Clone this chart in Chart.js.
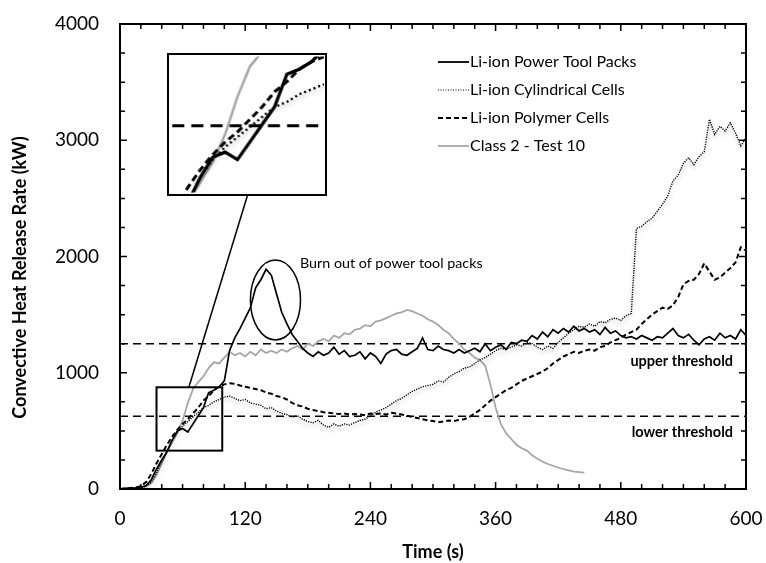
<!DOCTYPE html>
<html>
<head>
<meta charset="utf-8">
<script src="https://cdn.jsdelivr.net/npm/chart.js@4.4.1/dist/chart.umd.min.js"></script>
<style>
  html, body { margin: 0; padding: 0; background: #fff; }
  #wrap { position: relative; width: 766px; height: 563px; }
  #inset { position: absolute; box-sizing: border-box; border: 2px solid #000; background: #fff; }
</style>
</head>
<body>
<div id="wrap">
  <canvas id="hrr-chart"></canvas>
  <div id="inset"><canvas id="inset-chart"></canvas></div>
</div>
<script>
const timeS = [
  0, 5, 10, 15, 20, 25, 30, 35, 40, 45,
  50, 55, 60, 65, 70, 75, 80, 85, 90, 95,
  100, 105, 110, 115, 120, 125, 130, 135, 140, 145,
  150, 155, 160, 165, 170, 175, 180, 185, 190, 195,
  200, 205, 210, 215, 220, 225, 230, 235, 240, 245,
  250, 255, 260, 265, 270, 275, 280, 285, 290, 295,
  300, 305, 310, 315, 320, 325, 330, 335, 340, 345,
  350, 355, 360, 365, 370, 375, 380, 385, 390, 395,
  400, 405, 410, 415, 420, 425, 430, 435, 440, 445,
  450, 455, 460, 465, 470, 475, 480, 485, 490, 495,
  500, 505, 510, 515, 520, 525, 530, 535, 540, 545,
  550, 555, 560, 565, 570, 575, 580, 585, 590, 595,
  600
];

const powerToolPacks = [
  0, 5, 8, 10, 15, 30, 80, 170, 250, 320,
  420, 500, 520, 490, 560, 630, 700, 830, 850, 880,
  930, 1190, 1300, 1380, 1470, 1560, 1730, 1800, 1890, 1840,
  1680, 1520, 1420, 1330, 1270, 1210, 1170, 1140, 1180, 1150,
  1170, 1220, 1160, 1190, 1140, 1150, 1180, 1120, 1170, 1140,
  1080, 1160, 1190, 1200, 1160, 1150, 1180, 1210, 1300, 1200,
  1190, 1230, 1200, 1190, 1170, 1200, 1170, 1190, 1210, 1180,
  1250, 1190, 1220, 1240, 1200, 1260, 1250, 1280, 1270, 1320,
  1290, 1350, 1310, 1370, 1340, 1380, 1350, 1400, 1360, 1380,
  1350, 1370, 1330, 1390, 1340, 1360, 1320, 1300, 1310, 1290,
  1320, 1300, 1280, 1310, 1300, 1340, 1380, 1320, 1300, 1330,
  1280, 1240, 1290, 1310, 1280, 1340, 1300, 1320, 1290, 1370,
  1320
];

const cylindricalCells = [
  0, 3, 5, 8, 12, 25, 60, 140, 230, 320,
  420, 490, 540, 580, 620, 660, 700, 720, 750, 770,
  790, 800, 780, 760, 770, 740, 730, 720, 690, 700,
  670, 650, 640, 620, 630, 600, 580, 570, 590, 550,
  530, 560, 540, 560, 550, 570, 590, 600, 630, 660,
  680, 700, 730, 760, 780, 810, 840, 860, 880, 890,
  900, 930, 920, 960, 990, 1010, 1040, 1050, 1080, 1110,
  1130, 1160, 1190, 1210, 1200, 1220, 1240, 1230, 1260, 1250,
  1220, 1200, 1230, 1210, 1260, 1300, 1340, 1370, 1400, 1390,
  1420, 1400, 1440, 1430, 1460, 1470, 1450, 1490, 1510, 2240,
  2260, 2300, 2330, 2390, 2450, 2520, 2650, 2700, 2800, 2850,
  2790, 2860, 2900, 3180, 3050, 3120, 3080, 3150, 3060, 2950,
  3020
];

const polymerCells = [
  0, 5, 8, 12, 25, 60, 130, 220, 300, 380,
  450, 510, 560, 600, 650, 700, 760, 800, 850, 880,
  900, 910, 905, 890, 880, 870, 860, 850, 830, 820,
  800, 790, 770, 740, 720, 710, 690, 680, 670, 660,
  655, 650, 645, 650, 640, 645, 640, 635, 650, 645,
  650, 640, 655, 650, 640, 630, 620, 610, 600, 590,
  585, 575, 580, 590, 585, 595, 600, 620, 650, 680,
  720, 760, 790, 820, 850, 870, 900, 930, 950, 970,
  990, 1010, 1040, 1080, 1110, 1140, 1160, 1180, 1170, 1190,
  1200, 1190, 1220, 1230, 1260, 1280, 1300, 1330, 1350, 1370,
  1420, 1460, 1500, 1530, 1560, 1550, 1580, 1650, 1760, 1790,
  1800, 1850, 1940, 1870, 1800, 1820, 1860, 1900, 1950, 2080,
  2050
];

// test ends at 445 s
const class2Test10 = [
  0, 3, 5, 8, 12, 20, 50, 120, 220, 320,
  400, 480, 590, 740, 860, 920, 970, 1040, 1090, 1080,
  1130, 1180, 1150, 1170, 1140, 1180, 1150, 1200, 1170, 1190,
  1170, 1200, 1180, 1210, 1230, 1200, 1250, 1230, 1270, 1290,
  1270, 1320, 1300, 1340, 1330, 1370, 1380, 1410, 1400, 1440,
  1450, 1470, 1490, 1510, 1520, 1540, 1530, 1510, 1490, 1460,
  1440, 1410, 1370, 1340, 1290, 1250, 1200, 1170, 1130, 1110,
  1060, 900, 700, 560, 480, 430, 380, 350, 330, 290,
  260, 235, 215, 200, 185, 170, 160, 150, 145, 140
];

const upperThreshold = 1250;
const lowerThreshold = 625;

const xTickLabels = [0, 120, 240, 360, 480, 600];
const yTickLabels = [0, 1000, 2000, 3000, 4000];

const FONT = 'Lato, "Open Sans", sans-serif';
const GREY = '#a6a6a6';

const toPoints = vals => vals.map((v, i) => ({ x: timeS[i], y: v }));
const flat = v => [{ x: 0, y: v }, { x: 600, y: v }];

function makeDatasets(thick) {
  const k = thick ? 1.9 : 1;
  return [
    { label: 'Li-ion Power Tool Packs', data: toPoints(powerToolPacks),
      borderColor: '#000', borderWidth: 1.7 * k, borderDash: [] },
    { label: 'Li-ion Cylindrical Cells', data: toPoints(cylindricalCells),
      borderColor: '#000', borderWidth: thick ? 2.4 : 1.4, borderDash: thick ? [2, 3] : [1.2, 1.2] },
    { label: 'Li-ion Polymer Cells', data: toPoints(polymerCells),
      borderColor: '#000', borderWidth: 2 * (thick ? 1.5 : 1), borderDash: thick ? [7, 4] : [5, 3] },
    { label: 'Class 2 - Test 10', data: toPoints(class2Test10),
      borderColor: GREY, borderWidth: 1.8 * (thick ? 1.4 : 1), borderDash: [] },
    { label: 'upper', data: flat(upperThreshold), borderColor: '#000',
      borderWidth: thick ? 3 : 1.5, borderDash: thick ? [12, 7] : [8, 5], legend: false },
    { label: 'lower', data: flat(lowerThreshold), borderColor: '#000',
      borderWidth: thick ? 3 : 1.5, borderDash: thick ? [12, 7] : [8, 5], legend: false }
  ];
}

// soft grey shadow under the dotted series
const shadow = {
  id: 'shadow',
  beforeDatasetDraw(chart, args) {
    if (args.index !== 1) return;
    const ctx = chart.ctx;
    ctx.save();
    ctx.shadowColor = 'rgba(0,0,0,0.35)';
    ctx.shadowBlur = 4;
    ctx.shadowOffsetY = 3;
  },
  afterDatasetDraw(chart, args) {
    if (args.index === 1) chart.ctx.restore();
  }
};

const decor = {
  id: 'decor',
  afterDatasetsDraw(chart) {
    const { ctx, chartArea: a, scales: { x, y } } = chart;
    const X = v => x.getPixelForValue(v);
    const Y = v => y.getPixelForValue(v);
    ctx.save();
    ctx.strokeStyle = '#000';
    ctx.fillStyle = '#000';

    // inward ticks on all four sides
    ctx.lineWidth = 1.5;
    ctx.beginPath();
    x.ticks.forEach(t => {
      const px = X(t.value), len = t.value % 120 === 0 ? 7 : 5;
      ctx.moveTo(px, a.bottom); ctx.lineTo(px, a.bottom - len);
      ctx.moveTo(px, a.top); ctx.lineTo(px, a.top + len);
    });
    y.ticks.forEach(t => {
      const py = Y(t.value), len = t.value % 1000 === 0 ? 7 : 5;
      ctx.moveTo(a.left, py); ctx.lineTo(a.left + len, py);
      ctx.moveTo(a.right, py); ctx.lineTo(a.right - len, py);
    });
    ctx.stroke();

    ctx.lineWidth = 2;
    ctx.strokeRect(a.left, a.top, a.right - a.left, a.bottom - a.top);

    // zoom box, connector, ellipse
    ctx.lineWidth = 2;
    ctx.strokeRect(X(35), Y(875), X(98) - X(35), Y(330) - Y(875));
    ctx.lineWidth = 1.5;
    ctx.beginPath();
    ctx.moveTo(X(66), Y(875));
    ctx.lineTo(X(122), Y(2520));
    ctx.stroke();
    ctx.beginPath();
    ctx.ellipse(X(149), Y(1626), X(173) - X(149), Y(1282) - Y(1626), 0, 0, Math.PI * 2);
    ctx.stroke();

    // notes
    ctx.textBaseline = 'middle';
    ctx.font = '14.3px ' + FONT;
    ctx.textAlign = 'left';
    ctx.fillText('Burn out of power tool packs', X(172.5), Y(1945));
    ctx.font = 'bold 14.5px ' + FONT;
    ctx.textAlign = 'right';
    ctx.fillText('upper threshold', X(587.5), Y(1100));
    ctx.fillText('lower threshold', X(587.5), Y(490));

    // legend
    ctx.font = '16px ' + FONT;
    ctx.textAlign = 'left';
    chart.data.datasets.filter(d => d.legend !== false).forEach((d, i) => {
      const ly = a.top + 38 + i * 28;
      ctx.save();
      ctx.strokeStyle = d.borderColor;
      ctx.lineWidth = i === 1 ? 1 : 1.8;
      ctx.setLineDash(i === 1 ? [1, 1.5] : d.borderDash);
      ctx.beginPath();
      ctx.moveTo(a.left + 318, ly);
      ctx.lineTo(a.left + 349, ly);
      ctx.stroke();
      ctx.restore();
      ctx.fillText(d.label, a.left + 350, ly);
    });

    // y axis title
    ctx.font = 'bold 18px ' + FONT;
    ctx.textAlign = 'center';
    ctx.translate(20, (a.top + a.bottom) / 2 + 21);
    ctx.rotate(-Math.PI / 2);
    ctx.fillText('Convective Heat Release Rate (kW)', 0, 0);
    ctx.restore();
  }
};

const main = new Chart(document.getElementById('hrr-chart'), {
  type: 'line',
  data: { datasets: makeDatasets(false) },
  options: {
    responsive: true,
    maintainAspectRatio: false,
    animation: false,
    layout: { padding: { top: 24, right: 20, left: 0, bottom: 0 } },
    elements: { point: { radius: 0 }, line: { tension: 0 } },
    plugins: { legend: { display: false }, tooltip: { enabled: false } },
    scales: {
      x: {
        type: 'linear', min: 0, max: 600,
        grid: { display: false, drawTicks: false },
        border: { display: false },
        ticks: {
          stepSize: 20, autoSkip: false, maxRotation: 0, padding: 18,
          color: '#000', font: { family: FONT, size: 19 },
          callback: v => xTickLabels.includes(v) ? String(v) : ''
        },
        title: {
          display: true, text: 'Time (s)', color: '#000',
          font: { family: FONT, size: 18, weight: 'bold' }, padding: { top: 0, bottom: 0 }
        },
        afterFit: s => { s.height = 74; s.paddingLeft = 0; s.paddingRight = 0; }
      },
      y: {
        type: 'linear', min: 0, max: 4000,
        grid: { display: false, drawTicks: false },
        border: { display: false },
        ticks: {
          stepSize: 250, autoSkip: false, padding: 21,
          color: '#000', font: { family: FONT, size: 19 },
          callback: v => yTickLabels.includes(v) ? String(v) : ''
        },
        afterFit: s => { s.width = 120; s.paddingTop = 0; s.paddingBottom = 0; }
      }
    }
  },
  plugins: [shadow, decor]
});

// magnified inset, placed over the box drawn in data coordinates
const sx = main.scales.x, sy = main.scales.y;
const box = document.getElementById('inset');
const bl = sx.getPixelForValue(45), br = sx.getPixelForValue(198);
const bt = sy.getPixelForValue(3750), bb = sy.getPixelForValue(2520);
box.style.left = bl + 'px';
box.style.top = bt + 'px';
box.style.width = (br - bl) + 'px';
box.style.height = (bb - bt) + 'px';

new Chart(document.getElementById('inset-chart'), {
  type: 'line',
  data: { datasets: makeDatasets(true).filter(d => d.label !== 'upper') },
  options: {
    responsive: true,
    maintainAspectRatio: false,
    animation: false,
    layout: { padding: 0 },
    elements: { point: { radius: 0 }, line: { tension: 0 } },
    plugins: { legend: { display: false }, tooltip: { enabled: false } },
    scales: {
      x: { type: 'linear', min: 38, max: 100, display: false },
      y: { type: 'linear', min: 360, max: 900, display: false }
    }
  },
  plugins: [shadow]
});
</script>
</body>
</html>
